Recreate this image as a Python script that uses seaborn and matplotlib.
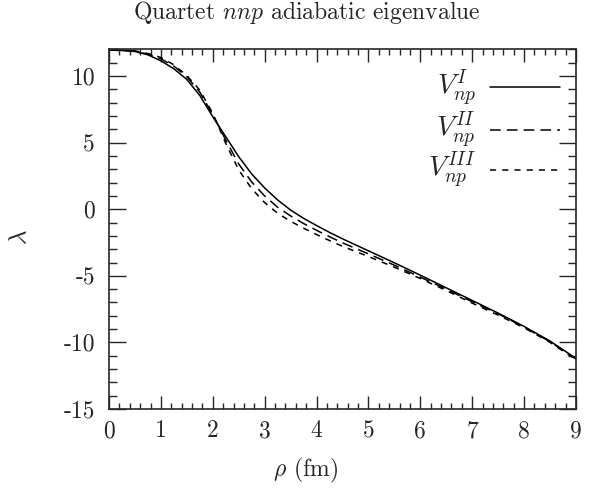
import numpy as np
import pandas as pd
import matplotlib
matplotlib.use("Agg")
import matplotlib.pyplot as plt
import seaborn as sns
from matplotlib.ticker import MultipleLocator
from matplotlib.lines import Line2D

sns.set_style("ticks")
plt.rcParams['font.family'] = 'serif'
plt.rcParams['font.serif'] = ['cmr10', 'DejaVu Serif']
plt.rcParams['mathtext.fontset'] = 'cm'
plt.rcParams['axes.formatter.use_mathtext'] = True

# data
rho = [0, 0.25, 0.5, 0.75, 1.0, 1.25, 1.5, 1.75, 2.0, 2.25, 2.5, 2.75, 3.0, 3.25,
       3.5, 3.75, 4.0, 4.25, 4.5, 5.0, 5.5, 6.0, 6.5, 7.0, 7.5, 8.0, 8.5, 9.0]
lam_I = [11.95, 11.93, 11.85, 11.6, 11.15, 10.55, 9.75, 8.55, 6.95, 5.45, 3.95, 2.65, 1.6, 0.7,
         -0.06, -0.68, -1.22, -1.74, -2.22, -3.12, -4.02, -4.95, -5.9, -6.85, -7.8, -8.8, -9.9, -11.2]
lam_II = [11.95, 11.94, 11.88, 11.65, 11.3, 10.75, 9.95, 8.8, 7.1, 5.2, 3.4, 2.05, 1.0, 0.15,
          -0.5, -1.07, -1.58, -2.06, -2.52, -3.35, -4.2, -5.1, -6.0, -6.95, -7.85, -8.85, -9.95, -11.25]
lam_III = [11.95, 11.94, 11.9, 11.7, 11.4, 10.85, 10.05, 8.95, 7.2, 4.95, 2.95, 1.55, 0.5, -0.3,
           -0.9, -1.42, -1.9, -2.35, -2.78, -3.55, -4.35, -5.2, -6.1, -7.05, -7.95, -8.9, -10.0, -11.3]
labels = [r'$V_{np}^{I}$', r'$V_{np}^{II}$', r'$V_{np}^{III}$']
xticks = [0, 1, 2, 3, 4, 5, 6, 7, 8, 9]
xticklabels = ['0', '1', '2', '3', '4', '5', '6', '7', '8', '9']
yticks = [-15, -10, -5, 0, 5, 10]
yticklabels = ['-15', '-10', '-5', '0', '5', '10']

fig = plt.figure(figsize=(5.92, 4.94), dpi=100)
ax = fig.add_axes([109/592, 1-409/494, (576-109)/592, (409-49.5)/494])

styles = ['-', (0, (7, 4)), (0, (4, 4))]
for y, lab, ls in zip([lam_I, lam_II, lam_III], labels, styles):
    sns.lineplot(x=rho, y=y, ax=ax, color='black', linewidth=1.1, linestyle=ls)

ax.set_xlim(0, 9)
ax.set_ylim(-15, 12)
ax.set_xticks(xticks, xticklabels, fontsize=17)
ax.set_yticks(yticks, yticklabels, fontsize=17)
ax.xaxis.set_minor_locator(MultipleLocator(0.2))
ax.yaxis.set_minor_locator(MultipleLocator(1))
ax.tick_params(axis='x', which='major', direction='in', length=9.5, width=1.0,
               top=True, bottom=True, pad=8)
ax.tick_params(axis='x', which='minor', direction='in', length=4.5, width=1.0,
               top=True, bottom=True)
ax.tick_params(axis='y', which='major', direction='in', length=12.5, width=1.0,
               left=True, right=True, pad=10)
ax.tick_params(axis='y', which='minor', direction='in', length=6, width=1.0,
               left=True, right=True)
for s in ax.spines.values():
    s.set_visible(True)
    s.set_linewidth(1.2)

ax.set_xlabel(r'$\rho$ (fm)', fontsize=17)
ax.set_ylabel(r'$\lambda$', fontsize=18, rotation=90)
ax.xaxis.label.set_va('center')
ax.yaxis.label.set_va('center')
ax.xaxis.set_label_coords((305-109)/467, (409-470)/359.5)
ax.yaxis.set_label_coords((20-109)/467, (409-237)/359.5)

fig.text(307/592, 1-12/494, r'Quartet $nnp$ adiabatic eigenvalue', ha='center', va='center', fontsize=17)

# legend (key samples with right-aligned labels, like the reference)
rows_py = [87.3, 130, 170]
for py, lab, ls in zip(rows_py, labels, styles):
    yy = (409-py)/359.5
    ax.add_line(Line2D([(490-109)/467, (560-109)/467], [yy, yy], transform=ax.transAxes,
                       color='black', linewidth=1.1, linestyle=ls))
    ax.text((476-109)/467, yy, lab, transform=ax.transAxes, ha='right', va='center', fontsize=20)

fig.savefig('out.png', dpi=100)
